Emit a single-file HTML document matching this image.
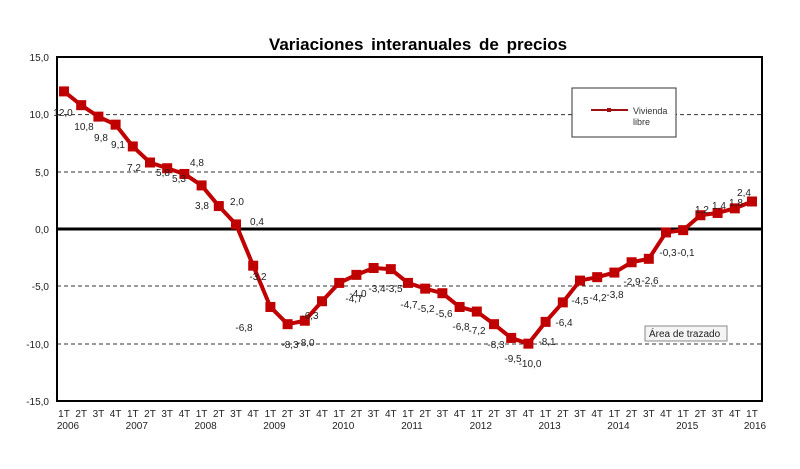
<!DOCTYPE html>
<html><head><meta charset="utf-8"><style>
body{margin:0;background:#fff;}
svg{display:block;font-family:"Liberation Sans",Arial,sans-serif;}
</style></head><body>
<svg width="800" height="469" viewBox="0 0 800 469">
<rect width="800" height="469" fill="#fff"/>
<text x="418" y="50" font-size="17" font-weight="bold" text-anchor="middle" word-spacing="3">Variaciones interanuales de precios</text>
<g stroke="#333" stroke-dasharray="4,3" stroke-width="1">
<line x1="57" y1="114.6" x2="762" y2="114.6"/>
<line x1="57" y1="172" x2="762" y2="172"/>
<line x1="57" y1="286" x2="762" y2="286"/>
<line x1="57" y1="344" x2="762" y2="344"/>
</g>
<rect x="57" y="57" width="705" height="344" fill="none" stroke="#000" stroke-width="2"/>
<line x1="57" y1="229" x2="762" y2="229" stroke="#000" stroke-width="3"/>
<g font-size="10" fill="#222" text-anchor="end">
<text x="49" y="61">15,0</text><text x="49" y="118">10,0</text><text x="49" y="176">5,0</text>
<text x="49" y="233">0,0</text><text x="49" y="290">-5,0</text><text x="49" y="348">-10,0</text><text x="49" y="405">-15,0</text>
</g>
<g id="xl" font-size="10" fill="#222" text-anchor="middle"></g>
<polyline id="ln" fill="none" stroke="#c00000" stroke-width="4" stroke-linejoin="round"/>
<g id="mk" fill="#c00000"></g>
<g id="lb" font-size="10" fill="#222" text-anchor="middle"></g>
<rect x="572" y="88" width="104" height="49" fill="#fff" stroke="#333"/>
<line x1="591" y1="110" x2="628" y2="110" stroke="#a01010" stroke-width="2"/>
<rect x="607" y="108" width="4" height="4" fill="#a01010"/>
<text x="633" y="114" font-size="9" fill="#333">Vivienda</text>
<text x="633" y="125" font-size="9" fill="#333">libre</text>
<rect x="645" y="326" width="82" height="15" fill="#f4f4f4" stroke="#888"/>
<text x="649" y="337" font-size="10" fill="#222">Área de trazado</text>
</svg>
<script>
var v=[12.0,10.8,9.8,9.1,7.2,5.8,5.3,4.8,3.8,2.0,0.4,-3.2,-6.8,-8.3,-8.0,-6.3,-4.7,-4.0,-3.4,-3.5,-4.7,-5.2,-5.6,-6.8,-7.2,-8.3,-9.5,-10.0,-8.1,-6.4,-4.5,-4.2,-3.8,-2.9,-2.6,-0.3,-0.1,1.2,1.4,1.8,2.4];
var L=[[63,112],[84,126],[101,137],[118,144],[134,167],[163,172],[179,178],[197,162],[202,205],[237,201],[257,221],[258,276],[244,327],[290,344],[306,342],[310,315],[354,298],[358,293],[377,288],[394,288],[409,304],[426,308],[444,313],[461,326],[477,330],[496,344],[513,358],[530,363],[547,341],[564,322],[580,300],[598,297],[615,294],[632,281],[650,280],[668,252],[686,252],[702,209],[719,205],[736,202],[744,192]];
var ns="http://www.w3.org/2000/svg",pts=[];
function X(i){return 64+i*17.2}function Y(a){return 229-a*172/15}
var mk=document.getElementById('mk'),lb=document.getElementById('lb'),xl=document.getElementById('xl');
v.forEach(function(a,i){var x=X(i),y=Y(a);pts.push(x+","+y);
var r=document.createElementNS(ns,'rect');r.setAttribute('x',x-5);r.setAttribute('y',y-5);r.setAttribute('width',10);r.setAttribute('height',10);mk.appendChild(r);
var t=document.createElementNS(ns,'text');t.setAttribute('x',L[i][0]);t.setAttribute('y',L[i][1]+4);t.textContent=a.toFixed(1).replace('.',',');lb.appendChild(t);
var q=document.createElementNS(ns,'text');q.setAttribute('x',x);q.setAttribute('y',417);q.textContent=(i%4+1)+'T';xl.appendChild(q);
if(i%4==0){var w=document.createElementNS(ns,'text');w.setAttribute('x',x+(i==40?3:4));w.setAttribute('y',429);w.textContent=2006+i/4;xl.appendChild(w);}
});
document.getElementById('ln').setAttribute('points',pts.join(' '));
</script>
</body></html>
